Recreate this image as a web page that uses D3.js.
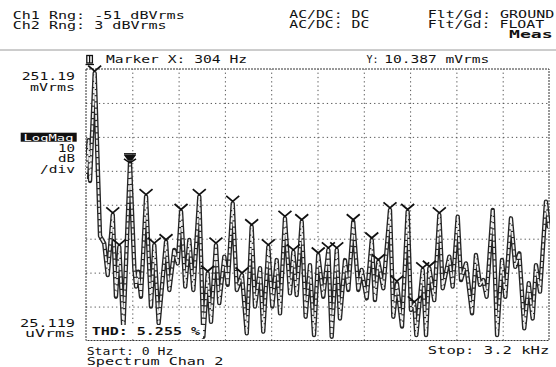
<!DOCTYPE html>
<html><head><meta charset="utf-8">
<script src="https://cdn.jsdelivr.net/npm/d3@7"></script>
<style>
body{margin:0;background:#fff}
svg{display:block}
text{font-family:"DejaVu Sans Mono",monospace;font-size:10px;fill:#111}
</style>
</head><body>
<svg id="chart" width="556" height="367"></svg>
<script>
// Spectrum trace vertices: frequency (Hz) and level (dBVrms)
const traceFreqHz = [0, 18, 28, 60, 97, 126, 150, 185, 207, 230, 258, 304, 334, 346, 361, 380, 415, 449, 472, 502,
  553, 576, 610, 634, 657, 686, 714, 742, 783, 811, 841, 864, 898, 921, 956, 979, 1014, 1042, 1078, 1111,
  1145, 1168, 1203, 1225, 1260, 1288, 1318, 1341, 1375, 1410, 1433, 1456, 1491, 1518, 1548, 1576, 1605, 1640, 1675, 1698,
  1733, 1755, 1790, 1813, 1847, 1882, 1905, 1940, 1975, 1997, 2020, 2055, 2101, 2124, 2149, 2184, 2223, 2246, 2269, 2283,
  2327, 2350, 2373, 2407, 2442, 2465, 2511, 2534, 2569, 2592, 2626, 2668, 2695, 2723, 2746, 2769, 2811, 2841, 2875, 2898,
  2937, 2967, 2995, 3029, 3060, 3087, 3110, 3138, 3179, 3200];
const traceLevelDbv = [-44.4, -33.0, -45.0, -13.2, -61.2, -63.4, -72.7, -55.0, -79.1, -64.4, -88.9, -39.67, -70.7, -76.1, -71.7, -79.1, -49.6, -82.0, -63.9, -86.9,
  -62.9, -77.1, -65.3, -69.3, -54.0, -76.1, -62.4, -77.1, -49.6, -90.9, -72.2, -86.5, -63.9, -81.0, -67.3, -75.6, -51.6, -77.1, -72.7, -89.9,
  -58.5, -82.0, -70.7, -89.4, -64.4, -82.0, -68.3, -84.0, -56.0, -78.1, -65.9, -78.6, -57.0, -85.0, -69.8, -90.4, -66.8, -79.1, -65.3, -90.9,
  -65.3, -85.5, -68.3, -77.1, -57.0, -77.1, -71.2, -79.6, -62.4, -80.1, -68.8, -76.6, -53.5, -85.0, -75.1, -87.9, -54.0, -83.0, -81.2, -90.4,
  -71.2, -90.4, -70.7, -80.1, -55.0, -76.6, -67.3, -76.1, -55.5, -74.2, -69.3, -84.0, -66.8, -75.6, -74.2, -79.1, -53.5, -90.4, -68.3, -79.1,
  -56.0, -70.3, -66.3, -88.4, -75.1, -85.5, -69.8, -77.6, -51.1, -58.9];

// Harmonic peaks flagged by the THD measurement
const harmonicMarkerHz = [60, 185, 230, 415, 472, 553, 657, 783, 841, 898, 1014, 1078, 1145, 1260, 1375, 1433, 1491,
  1605, 1675, 1733, 1847, 1975, 2020, 2101, 2149, 2223, 2269, 2327, 2373, 2442];

// Active marker readout
const markerHz = 304;
const markerMvrms = 10.387;

// Display settings
const startHz = 0, stopHz = 3200;
const topDbv = -12, bottomDbv = -92;  // 251.19 mVrms .. 25.119 uVrms
const freqDivHz = 320, levelDivDb = 10;

// Annotation text
const headerLeft = [["Ch1 Rng: -51 dBVrms", 12.7, 19.3, 172], ["Ch2 Rng: 3 dBVrms", 12.7, 29.3, 154]];
const headerMid = [["AC/DC: DC", 289.3, 18.3, 80], ["AC/DC: DC", 289.3, 28.3, 80]];
const headerRight = [["Flt/Gd: GROUND", 427.7, 18.3, 126.6], ["Flt/Gd: FLOAT", 427.7, 28.3, 116.6]];
const scaleLabels = [["251.19", 80, 53.3], ["mVrms", 90.7, 45], ["10", 151.7, 17], ["dB", 161.7, 17], ["/div", 173.3, 35],
  ["25.119", 327, 55], ["uVrms", 337.3, 50]];
const footerLabels = [["Start: 0 Hz", 86.7, 355, 86.6], ["Spectrum Chan 2", 86.7, 364.6, 136.6], ["Stop: 3.2 kHz", 427.7, 353.5, 121.6]];

const svg = d3.select("#chart");
const plot = {left: 86, right: 549, top: 69, bottom: 340.5};

const x = d3.scaleLinear().domain([startHz, stopHz]).range([plot.left, plot.right]);
const y = d3.scaleLinear().domain([bottomDbv, topDbv]).range([plot.bottom, plot.top]);

function put(sel, t, xx, yy, len, anchor) {
  const el = sel.append("text").attr("x", xx).attr("y", yy).text(t);
  if (len) el.attr("textLength", len).attr("lengthAdjust", "spacingAndGlyphs");
  if (anchor) el.attr("text-anchor", anchor);
  return el;
}

// Header
const head = svg.append("g");
[...headerLeft, ...headerMid, ...headerRight].forEach(d => put(head, d[0], d[1], d[2], d[3]));
put(head, "Meas", 509, 37.8, 43.7).style("font-weight", "bold");
svg.append("line").attr("x1", 0).attr("x2", 556).attr("y1", 50).attr("y2", 50)
  .attr("stroke", "#9a9a9a").attr("stroke-width", 1);

// Marker readout line
put(svg, "Marker X:  " + markerHz + " Hz", 106, 63.3, 141);
put(svg, "Y:", 366.5, 63.3, 12).style("font-size", "10.5px");
put(svg, markerMvrms.toFixed(3) + " mVrms", 384.3, 63.3, 105);
const mk = svg.append("g").attr("stroke", "#111").attr("fill", "none").attr("stroke-width", 1.3);
mk.append("rect").attr("x", 86.8).attr("y", 55.5).attr("width", 5.6).attr("height", 7.5);
mk.append("line").attr("x1", 89.6).attr("x2", 89.6).attr("y1", 55.5).attr("y2", 63);
mk.append("line").attr("x1", 85.5).attr("x2", 94).attr("y1", 64.5).attr("y2", 64.5);

// Grid
const gx = svg.append("g").attr("transform", `translate(0,${plot.bottom})`)
  .call(d3.axisBottom(x).tickValues(d3.range(startHz + freqDivHz, stopHz, freqDivHz))
    .tickSize(-(plot.bottom - plot.top)).tickFormat(""));
const gy = svg.append("g").attr("transform", `translate(${plot.left},0)`)
  .call(d3.axisLeft(y).tickValues(d3.range(bottomDbv + levelDivDb, topDbv, levelDivDb))
    .tickSize(-(plot.right - plot.left)).tickFormat(""));
[gx, gy].forEach(g => {
  g.select(".domain").remove();
  g.selectAll(".tick line").attr("stroke", "#555").attr("stroke-width", 1).attr("stroke-dasharray", "1.3,3");
});

// Plot frame
svg.append("rect").attr("x", plot.left).attr("y", plot.top)
  .attr("width", plot.right - plot.left).attr("height", plot.bottom - plot.top)
  .attr("fill", "none").attr("stroke", "#333").attr("stroke-width", 1).attr("stroke-dasharray", "2,1");

// Trace: drawn as a hollow pen stroke (dark outline, pale core)
svg.append("clipPath").attr("id", "clip").append("rect")
  .attr("x", plot.left).attr("y", plot.top - 4).attr("width", plot.right - plot.left + 1).attr("height", plot.bottom - plot.top + 4);
const pts = traceFreqHz.map((f, i) => [f, traceLevelDbv[i]]);
const line = d3.line().x(d => x(d[0])).y(d => y(d[1]));
const tr = svg.append("g").attr("clip-path", "url(#clip)");
tr.append("path").attr("d", line(pts)).attr("fill", "none").attr("stroke", "#262626")
  .attr("stroke-width", 4.4).attr("stroke-linejoin", "round");
tr.append("path").attr("d", line(pts)).attr("fill", "none").attr("stroke", "#f2f2f2")
  .attr("stroke-width", 1.7).attr("stroke-linejoin", "round").attr("stroke-dasharray", "5,1.2");

// Harmonic markers
const hm = svg.append("g").attr("stroke", "#111").attr("stroke-width", 1.8).attr("fill", "none");
harmonicMarkerHz.forEach(f => {
  const i = traceFreqHz.indexOf(f);
  const px = x(f), py = y(traceLevelDbv[i]) - 2;
  hm.append("path").attr("d", `M${px - 6.5},${py - 5.5}L${px},${py}L${px + 6.5},${py - 5.5}`);
});

// Active marker symbol
const mx = x(markerHz), my = y(20 * Math.log10(markerMvrms / 1000)) - 2;
const am = svg.append("g").attr("stroke", "#111").attr("stroke-width", 1.6);
am.append("path").attr("d", `M${mx - 6},${my - 7}L${mx + 6},${my - 7}`);
am.append("path").attr("d", `M${mx - 4.5},${my - 5}L${mx + 4.5},${my - 5}L${mx + 1.5},${my - 1}L${mx - 1.5},${my - 1}Z`).attr("fill", "#111");
am.append("path").attr("d", `M${mx - 6},${my - 2}L${mx},${my + 2}L${mx + 6},${my - 2}`).attr("fill", "none");

// Scale labels
const sl = svg.append("g");
scaleLabels.forEach(d => put(sl, d[0], 75, d[1], d[2], "end"));
svg.append("rect").attr("x", 20.7).attr("y", 132.7).attr("width", 56).attr("height", 9).attr("fill", "#111");
put(svg, "LogMag", 73.5, 140.6, 50, "end").style("fill", "#fff").style("font-size", "8.5px");

// THD readout
svg.append("rect").attr("x", 88).attr("y", 325).attr("width", 115).attr("height", 13).attr("fill", "#fff");
put(svg, "THD:  5.255 %", 91.7, 335, 108.3).style("font-weight", "bold");

// Footer
footerLabels.forEach(d => put(svg, d[0], d[1], d[2], d[3]));
</script>
</body></html>
